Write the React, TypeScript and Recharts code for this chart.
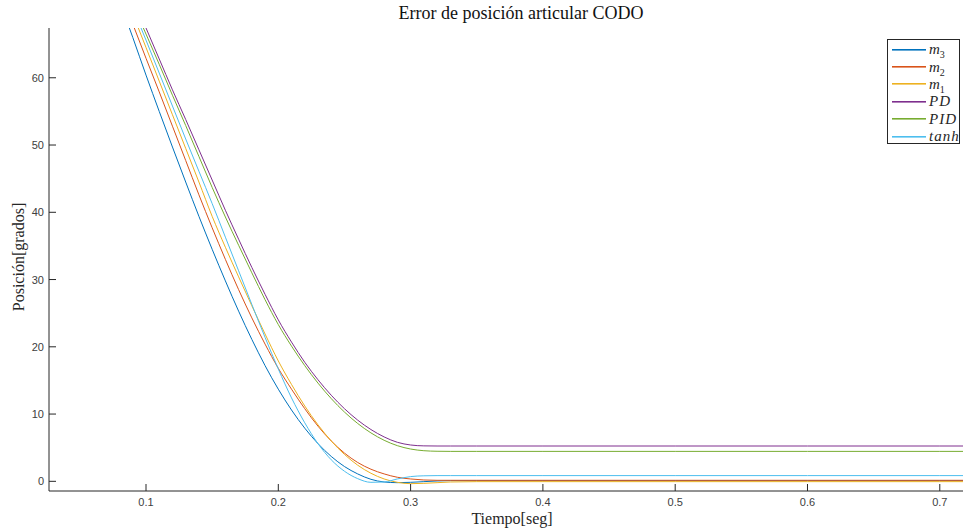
import React from 'react'
import { LineChart, Line, XAxis, YAxis, Legend } from 'recharts'

// tiempo [seg]
const tiempo = [
  0.08, 0.09, 0.1, 0.11, 0.12, 0.13, 0.14, 0.15, 0.16, 0.17, 0.18, 0.19, 0.2, 0.21, 0.22, 0.23,
  0.24, 0.25, 0.26, 0.27, 0.28, 0.29, 0.3, 0.31, 0.32, 0.33, 0.35, 0.4, 0.5, 0.6, 0.7, 0.73,
]

// error de posición [grados]
const m3 = [
  71.4, 66.0, 60.4, 55.0, 49.7, 44.5, 39.4, 34.5, 29.8, 25.3, 21.1, 17.2, 13.7, 10.6, 7.9, 5.6,
  3.7, 2.2, 1.1, 0.3, -0.1, -0.2, -0.15, -0.05, 0.05, 0.1, 0.1, 0.1, 0.1, 0.1, 0.1, 0.1,
]
const m2 = [
  73.1, 68.0, 62.9, 57.9, 52.8, 47.7, 42.6, 37.7, 33.0, 28.5, 24.3, 20.4, 16.8, 13.7, 10.8, 8.2,
  6.0, 4.2, 2.8, 1.8, 1.1, 0.6, 0.35, 0.2, 0.15, 0.15, 0.15, 0.15, 0.15, 0.15, 0.15, 0.15,
]
const m1 = [
  74.5, 69.5, 64.5, 59.5, 54.5, 49.5, 44.5, 39.4, 34.8, 30.4, 26.1, 21.9, 17.9, 14.4, 11.2, 8.4,
  6.0, 4.0, 2.4, 1.2, 0.35, -0.15, -0.35, -0.3, -0.2, -0.1, -0.05, -0.05, -0.05, -0.05, -0.05, -0.05,
]
const pd = [
  76.5, 72.0, 67.4, 62.8, 58.2, 53.8, 49.3, 44.8, 40.3, 36.0, 31.8, 27.8, 24.0, 20.7, 17.7, 15.1,
  12.8, 10.8, 9.1, 7.7, 6.6, 5.8, 5.4, 5.27, 5.25, 5.25, 5.25, 5.25, 5.25, 5.25, 5.25, 5.25,
]
const pid = [
  75.6, 71.0, 66.5, 62.0, 57.4, 52.9, 48.3, 43.7, 39.3, 35.1, 31.0, 27.0, 23.3, 20.1, 17.2, 14.6,
  12.3, 10.3, 8.6, 7.2, 6.1, 5.3, 4.8, 4.55, 4.47, 4.45, 4.45, 4.45, 4.45, 4.45, 4.45, 4.45,
]
const tanh = [
  75.2, 70.4, 65.6, 60.7, 55.8, 50.9, 46.1, 41.3, 36.3, 31.3, 26.3, 21.4, 16.7, 12.4, 8.7, 5.6,
  3.2, 1.5, 0.4, -0.15, -0.1, 0.35, 0.7, 0.82, 0.85, 0.85, 0.85, 0.85, 0.85, 0.85, 0.85, 0.85,
]

const xTicks = [0.1, 0.2, 0.3, 0.4, 0.5, 0.6, 0.7]
const yTicks = [0, 10, 20, 30, 40, 50, 60]

const series = [
  { key: 'm3', label: 'm', sub: '3', values: m3, color: '#0072BD' },
  { key: 'm2', label: 'm', sub: '2', values: m2, color: '#D95319' },
  { key: 'm1', label: 'm', sub: '1', values: m1, color: '#EDB120' },
  { key: 'pd', label: 'PD', sub: '', values: pd, color: '#7E2F8E' },
  { key: 'pid', label: 'PID', sub: '', values: pid, color: '#77AC30' },
  { key: 'tanh', label: 'tanh', sub: '', values: tanh, color: '#4DBEEE' },
]

const data = tiempo.map((t, i) => {
  const row: Record<string, number> = { t }
  series.forEach((s) => { row[s.key] = s.values[i] })
  return row
})

const AXIS = '#262626'
const SANS = '"Liberation Sans", Arial, sans-serif'
const SERIF = '"Liberation Serif", "Times New Roman", serif'

// eslint-disable-next-line @typescript-eslint/no-explicit-any
const BottomTick = ({ x, y, payload }: any) => (
  <g>
    <line x1={x} y1={y} x2={x} y2={y - 7} stroke={AXIS} />
    <text x={x} y={y + 15} textAnchor="middle" fontSize={11} fill="#404040" fontFamily={SANS}>
      {payload.value}
    </text>
  </g>
)

// eslint-disable-next-line @typescript-eslint/no-explicit-any
const TopTick = ({ x, y }: any) => <line x1={x} y1={y} x2={x} y2={y + 7} stroke={AXIS} />

// eslint-disable-next-line @typescript-eslint/no-explicit-any
const LeftTick = ({ x, y, payload }: any) => (
  <g>
    <line x1={x} y1={y} x2={x + 7} y2={y} stroke={AXIS} />
    <text x={x - 5} y={y + 4} textAnchor="end" fontSize={11} fill="#404040" fontFamily={SANS}>
      {payload.value}
    </text>
  </g>
)

const LegendBox = () => (
  <div
    style={{
      border: `1px solid ${AXIS}`,
      background: '#fff',
      width: 71,
      height: 102,
      paddingTop: 1,
      boxSizing: 'content-box',
    }}
  >
    {series.map((s) => (
      <div key={s.key} style={{ display: 'flex', alignItems: 'center', height: 17.4 }}>
        <svg width={37} height={4} style={{ marginLeft: 4, flexShrink: 0, display: 'block' }}>
          <rect x={0} y={1} width={34} height={1.6} fill={s.color} />
        </svg>
        <span
          style={{
            fontFamily: SERIF,
            fontStyle: 'italic',
            fontSize: 15,
            letterSpacing: s.sub ? 0 : 1,
            lineHeight: '15px',
            color: '#262626',
            whiteSpace: 'nowrap',
          }}
        >
          {s.label}
          {s.sub && <sub style={{ fontSize: 10, fontStyle: 'normal', lineHeight: 0 }}>{s.sub}</sub>}
        </span>
      </div>
    ))}
  </div>
)

export default function App() {
  return (
    <div
      style={{
        position: 'absolute',
        left: 0,
        top: 0,
        width: 963,
        height: 532,
        overflow: 'hidden',
        background: '#fff',
      }}
    >
      <LineChart width={990} height={532} data={data} margin={{ top: 28, right: 15, bottom: 0, left: 0 }}>
        <XAxis
          dataKey="t"
          type="number"
          domain={[0.02668, 0.72661]}
          allowDataOverflow
          ticks={xTicks}
          height={41}
          tickSize={0}
          tickMargin={0}
          tickLine={false}
          axisLine={{ stroke: AXIS }}
          tick={<BottomTick />}
        />
        <XAxis
          xAxisId="top"
          orientation="top"
          type="number"
          domain={[0.02668, 0.72661]}
          allowDataOverflow
          ticks={xTicks}
          height={0}
          tickSize={0}
          tickMargin={0}
          tickLine={false}
          axisLine={{ stroke: AXIS }}
          tick={<TopTick />}
        />
        <YAxis
          type="number"
          domain={[-1.44, 67.4]}
          allowDataOverflow
          ticks={yTicks}
          width={49}
          tickSize={0}
          tickMargin={0}
          tickLine={false}
          axisLine={{ stroke: AXIS }}
          tick={<LeftTick />}
        />
        <Legend
          layout="horizontal"
          verticalAlign="middle"
          align="center"
          content={<LegendBox />}
          wrapperStyle={{ left: 887, top: 39, width: 73 }}
        />
        {series.map((s) => (
          <Line
            key={s.key}
            dataKey={s.key}
            type="monotone"
            stroke={s.color}
            strokeWidth={1}
            dot={false}
            isAnimationActive={false}
          />
        ))}
      </LineChart>

      <div
        style={{
          position: 'absolute',
          left: 521,
          top: 2,
          transform: 'translateX(-50%)',
          whiteSpace: 'nowrap',
          fontFamily: SERIF,
          fontSize: 18,
          lineHeight: '22px',
          color: '#111',
        }}
      >
        Error de posición articular CODO
      </div>
      <div
        style={{
          position: 'absolute',
          left: 512,
          top: 509,
          transform: 'translateX(-50%)',
          whiteSpace: 'nowrap',
          fontFamily: SERIF,
          fontSize: 16,
          lineHeight: '20px',
          color: '#262626',
        }}
      >
        Tiempo[seg]
      </div>
      <div
        style={{
          position: 'absolute',
          left: 19,
          top: 257,
          transform: 'translate(-50%, -50%) rotate(-90deg)',
          whiteSpace: 'nowrap',
          fontFamily: SERIF,
          fontSize: 16,
          lineHeight: '20px',
          color: '#262626',
        }}
      >
        Posición[grados]
      </div>
    </div>
  )
}
